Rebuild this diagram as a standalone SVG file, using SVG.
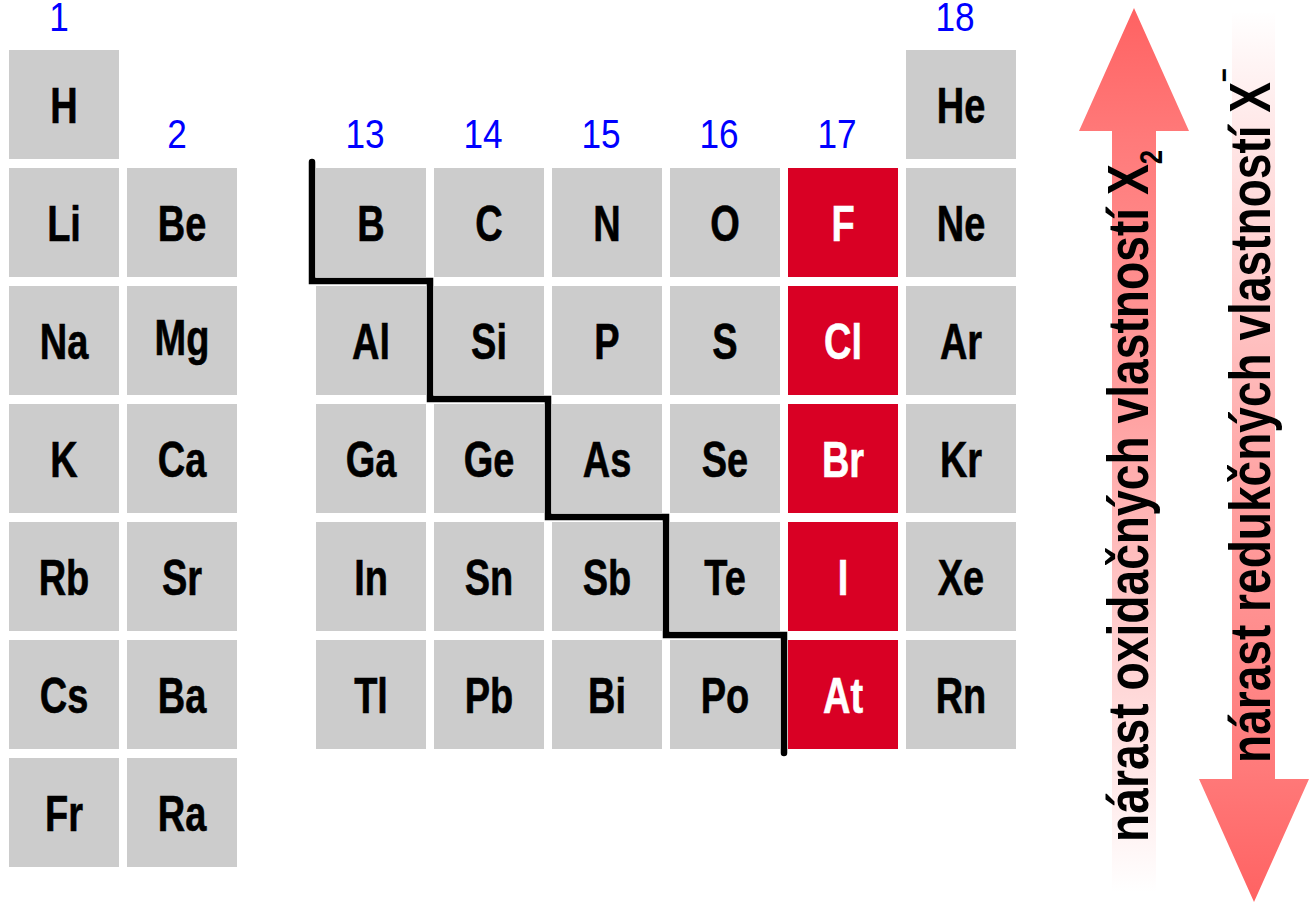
<svg xmlns="http://www.w3.org/2000/svg" width="1309" height="904" viewBox="0 0 1309 904">
<style>
.c{fill:#cccccc}
.r{fill:#d90024}
.s{font-family:"Liberation Sans",Arial,sans-serif;font-weight:bold;font-size:50px;text-anchor:middle;fill:#000;stroke:#000;stroke-width:0.6px}
.w{fill:#fff;stroke:#fff}
.g{font-family:"Liberation Sans",Arial,sans-serif;font-size:40px;text-anchor:middle;fill:#0000ff}
.lab{font-family:"Liberation Sans",Arial,sans-serif;font-weight:bold;font-size:58px;fill:#000}
</style>
<defs>
<linearGradient id="gUp" gradientUnits="userSpaceOnUse" x1="0" y1="8" x2="0" y2="892">
<stop offset="0" stop-color="#ff6262"/>
<stop offset="0.15" stop-color="#ff7a7a"/>
<stop offset="0.45" stop-color="#ffa0a0"/>
<stop offset="0.7" stop-color="#ffcccc"/>
<stop offset="0.88" stop-color="#ffeaea"/>
<stop offset="1" stop-color="#ffffff"/>
</linearGradient>
<linearGradient id="gDown" gradientUnits="userSpaceOnUse" x1="0" y1="902" x2="0" y2="10">
<stop offset="0" stop-color="#ff6262"/>
<stop offset="0.15" stop-color="#ff7a7a"/>
<stop offset="0.45" stop-color="#ffa0a0"/>
<stop offset="0.7" stop-color="#ffcccc"/>
<stop offset="0.88" stop-color="#ffeaea"/>
<stop offset="1" stop-color="#ffffff"/>
</linearGradient>
</defs>
<rect width="1309" height="904" fill="#ffffff"/>

<g id="group-numbers">
<text class="g" transform="translate(59,31) scale(0.88,1)">1</text>
<text class="g" transform="translate(177,148) scale(0.88,1)">2</text>
<text class="g" transform="translate(365,148) scale(0.88,1)">13</text>
<text class="g" transform="translate(483,148) scale(0.88,1)">14</text>
<text class="g" transform="translate(601,148) scale(0.88,1)">15</text>
<text class="g" transform="translate(719,148) scale(0.88,1)">16</text>
<text class="g" transform="translate(837,148) scale(0.88,1)">17</text>
<text class="g" transform="translate(955,31) scale(0.88,1)">18</text>
</g>

<g id="arrow-oxidation">
<polygon points="1134,8 1189,131 1156,131 1156,892 1112,892 1112,131 1079,131" fill="url(#gUp)"/>
<text class="lab" transform="translate(1148,842) rotate(-90)" textLength="692" lengthAdjust="spacingAndGlyphs">nárast oxidačných vlastností X<tspan font-size="32" dy="14">2</tspan></text>
</g>
<g id="arrow-reduction">
<polygon points="1232,13 1275,13 1275,779 1309,779 1254,902 1199,779 1232,779" fill="url(#gDown)"/>
<text class="lab" transform="translate(1270,763) rotate(-90)" textLength="695" lengthAdjust="spacingAndGlyphs">nárast redukčných vlastností X<tspan font-size="30" dy="-36">−</tspan></text>
</g>

<g id="H"><rect class="c" x="9" y="50" width="110" height="109"/><text class="s" transform="translate(64,123) scale(0.76,1)">H</text></g>
<g id="He"><rect class="c" x="906" y="50" width="110" height="109"/><text class="s" transform="translate(961,123) scale(0.76,1)">He</text></g>

<g id="Li"><rect class="c" x="9" y="168" width="110" height="109"/><text class="s" transform="translate(64,241) scale(0.76,1)">Li</text></g>
<g id="Be"><rect class="c" x="127" y="168" width="110" height="109"/><text class="s" transform="translate(182,241) scale(0.76,1)">Be</text></g>
<g id="B"><rect class="c" x="316" y="168" width="110" height="109"/><text class="s" transform="translate(371,241) scale(0.76,1)">B</text></g>
<g id="C"><rect class="c" x="434" y="168" width="110" height="109"/><text class="s" transform="translate(489,241) scale(0.76,1)">C</text></g>
<g id="N"><rect class="c" x="552" y="168" width="110" height="109"/><text class="s" transform="translate(607,241) scale(0.76,1)">N</text></g>
<g id="O"><rect class="c" x="670" y="168" width="110" height="109"/><text class="s" transform="translate(725,241) scale(0.76,1)">O</text></g>
<g id="F"><rect class="r" x="788" y="168" width="110" height="109"/><text class="s w" transform="translate(843,241) scale(0.76,1)">F</text></g>
<g id="Ne"><rect class="c" x="906" y="168" width="110" height="109"/><text class="s" transform="translate(961,241) scale(0.76,1)">Ne</text></g>

<g id="Na"><rect class="c" x="9" y="286" width="110" height="109"/><text class="s" transform="translate(64,359) scale(0.76,1)">Na</text></g>
<g id="Mg"><rect class="c" x="127" y="286" width="110" height="109"/><text class="s" transform="translate(182,355) scale(0.76,1)">Mg</text></g>
<g id="Al"><rect class="c" x="316" y="286" width="110" height="109"/><text class="s" transform="translate(371,359) scale(0.76,1)">Al</text></g>
<g id="Si"><rect class="c" x="434" y="286" width="110" height="109"/><text class="s" transform="translate(489,359) scale(0.76,1)">Si</text></g>
<g id="P"><rect class="c" x="552" y="286" width="110" height="109"/><text class="s" transform="translate(607,359) scale(0.76,1)">P</text></g>
<g id="S"><rect class="c" x="670" y="286" width="110" height="109"/><text class="s" transform="translate(725,359) scale(0.76,1)">S</text></g>
<g id="Cl"><rect class="r" x="788" y="286" width="110" height="109"/><text class="s w" transform="translate(843,359) scale(0.76,1)">Cl</text></g>
<g id="Ar"><rect class="c" x="906" y="286" width="110" height="109"/><text class="s" transform="translate(961,359) scale(0.76,1)">Ar</text></g>

<g id="K"><rect class="c" x="9" y="404" width="110" height="109"/><text class="s" transform="translate(64,477) scale(0.76,1)">K</text></g>
<g id="Ca"><rect class="c" x="127" y="404" width="110" height="109"/><text class="s" transform="translate(182,477) scale(0.76,1)">Ca</text></g>
<g id="Ga"><rect class="c" x="316" y="404" width="110" height="109"/><text class="s" transform="translate(371,477) scale(0.76,1)">Ga</text></g>
<g id="Ge"><rect class="c" x="434" y="404" width="110" height="109"/><text class="s" transform="translate(489,477) scale(0.76,1)">Ge</text></g>
<g id="As"><rect class="c" x="552" y="404" width="110" height="109"/><text class="s" transform="translate(607,477) scale(0.76,1)">As</text></g>
<g id="Se"><rect class="c" x="670" y="404" width="110" height="109"/><text class="s" transform="translate(725,477) scale(0.76,1)">Se</text></g>
<g id="Br"><rect class="r" x="788" y="404" width="110" height="109"/><text class="s w" transform="translate(843,477) scale(0.76,1)">Br</text></g>
<g id="Kr"><rect class="c" x="906" y="404" width="110" height="109"/><text class="s" transform="translate(961,477) scale(0.76,1)">Kr</text></g>

<g id="Rb"><rect class="c" x="9" y="522" width="110" height="109"/><text class="s" transform="translate(64,595) scale(0.76,1)">Rb</text></g>
<g id="Sr"><rect class="c" x="127" y="522" width="110" height="109"/><text class="s" transform="translate(182,595) scale(0.76,1)">Sr</text></g>
<g id="In"><rect class="c" x="316" y="522" width="110" height="109"/><text class="s" transform="translate(371,595) scale(0.76,1)">In</text></g>
<g id="Sn"><rect class="c" x="434" y="522" width="110" height="109"/><text class="s" transform="translate(489,595) scale(0.76,1)">Sn</text></g>
<g id="Sb"><rect class="c" x="552" y="522" width="110" height="109"/><text class="s" transform="translate(607,595) scale(0.76,1)">Sb</text></g>
<g id="Te"><rect class="c" x="670" y="522" width="110" height="109"/><text class="s" transform="translate(725,595) scale(0.76,1)">Te</text></g>
<g id="I"><rect class="r" x="788" y="522" width="110" height="109"/><text class="s w" transform="translate(843,595) scale(0.76,1)">I</text></g>
<g id="Xe"><rect class="c" x="906" y="522" width="110" height="109"/><text class="s" transform="translate(961,595) scale(0.76,1)">Xe</text></g>

<g id="Cs"><rect class="c" x="9" y="640" width="110" height="109"/><text class="s" transform="translate(64,713) scale(0.76,1)">Cs</text></g>
<g id="Ba"><rect class="c" x="127" y="640" width="110" height="109"/><text class="s" transform="translate(182,713) scale(0.76,1)">Ba</text></g>
<g id="Tl"><rect class="c" x="316" y="640" width="110" height="109"/><text class="s" transform="translate(371,713) scale(0.76,1)">Tl</text></g>
<g id="Pb"><rect class="c" x="434" y="640" width="110" height="109"/><text class="s" transform="translate(489,713) scale(0.76,1)">Pb</text></g>
<g id="Bi"><rect class="c" x="552" y="640" width="110" height="109"/><text class="s" transform="translate(607,713) scale(0.76,1)">Bi</text></g>
<g id="Po"><rect class="c" x="670" y="640" width="110" height="109"/><text class="s" transform="translate(725,713) scale(0.76,1)">Po</text></g>
<g id="At"><rect class="r" x="788" y="640" width="110" height="109"/><text class="s w" transform="translate(843,713) scale(0.76,1)">At</text></g>
<g id="Rn"><rect class="c" x="906" y="640" width="110" height="109"/><text class="s" transform="translate(961,713) scale(0.76,1)">Rn</text></g>

<g id="Fr"><rect class="c" x="9" y="758" width="110" height="109"/><text class="s" transform="translate(64,831) scale(0.76,1)">Fr</text></g>
<g id="Ra"><rect class="c" x="127" y="758" width="110" height="109"/><text class="s" transform="translate(182,831) scale(0.76,1)">Ra</text></g>

<g id="connectors">
<polyline points="312,162 312,281 430,281 430,399 548,399 548,517 666,517 666,635 784,635 784,753" fill="none" stroke="#000" stroke-width="6.5" stroke-linecap="round" stroke-linejoin="miter"/>
</g>
</svg>
